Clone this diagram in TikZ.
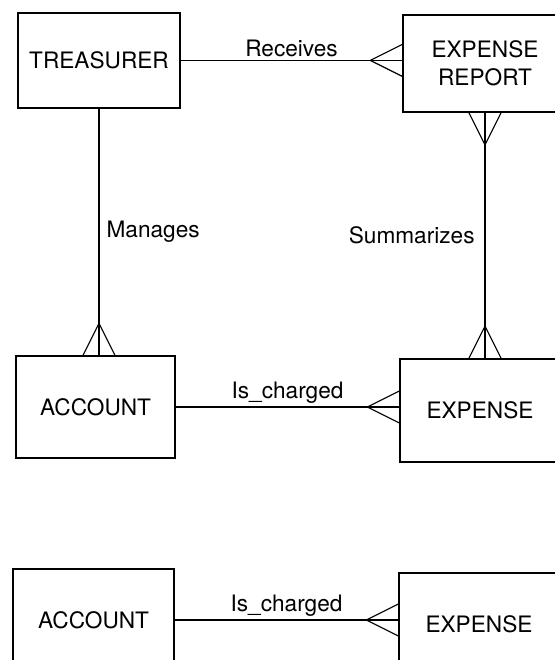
\documentclass[tikz,border=0pt]{standalone}
\usepackage{fontspec}
\setmainfont{TeX Gyre Heros}
\usepackage{tikz}
\usetikzlibrary{calc}
\usetikzlibrary{positioning}
\usetikzlibrary{arrows.meta}

\tikzset{
    entity/.style={draw,line width=1pt,minimum width=4cm,minimum height=2.55cm,align=center,
        font=\fontsize{16.1}{20}\selectfont},
    rel/.style={line width=0.8pt},
    rlabel/.style={font=\fontsize{16.1}{20}\selectfont,inner sep=2pt}
}

\begin{document}
\begin{tikzpicture}
                    \useasboundingbox (0,0) rectangle (13.875,16.5);
                    \clip (0,0) rectangle (13.875,16.5);

                    \node[entity,minimum width=4.05cm,minimum height=2.375cm] (treasurer) at (2.475,14.99) {TREASURER};
                    \node[entity,minimum width=4.1cm,minimum height=2.425cm] (report) at (12.125,14.91) {EXPENSE\\REPORT};
                    \node[entity,minimum width=3.975cm] (account) at (2.39,6.325) {ACCOUNT};
                    \node[entity,minimum height=2.575cm] (expense) at (12.0,6.24) {EXPENSE};
                    \node[entity,minimum width=4.025cm] (accountb) at (2.34,1.0) {ACCOUNT};
                    \node[entity,minimum height=2.575cm] (expenseb) at (11.975,0.89) {EXPENSE};

                    \coordinate (R) at (treasurer.east -| report.west);
                    \coordinate (M) at (treasurer.south |- account.north);
                    \coordinate (S) at (report.south |- expense.north);
                    \coordinate (C) at (account.east -| expense.west);
                    \coordinate (Cb) at (accountb.east -| expenseb.west);

                    \draw[rel] (treasurer.east) -- node[rlabel,above]{Receives} (R);
                    \draw[rel] ($(R)+(-0.8,0)$) -- ($(R)+(0,0.4)$) ($(R)+(-0.8,0)$) -- ($(R)+(0,-0.4)$);

                    \draw[rel] (treasurer.south) -- node[rlabel,right=3pt]{Manages} (M);
                    \draw[rel] ($(M)+(0,0.8)$) -- ($(M)+(-0.4,0)$) ($(M)+(0,0.8)$) -- ($(M)+(0.4,0)$);

                    \draw[rel] (report.south) -- node[rlabel,left=5pt]{Summarizes} (S);
                    \draw[rel] ($(report.south)+(0,-0.8)$) -- ($(report.south)+(-0.4,0)$) ($(report.south)+(0,-0.8)$) -- ($(report.south)+(0.4,0)$);
                    \draw[rel] ($(S)+(0,0.8)$) -- ($(S)+(-0.4,0)$) ($(S)+(0,0.8)$) -- ($(S)+(0.4,0)$);

                    \draw[rel] (account.east) -- node[rlabel,above]{Is\_charged} (C);
                    \draw[rel] ($(C)+(-0.8,0)$) -- ($(C)+(0,0.4)$) ($(C)+(-0.8,0)$) -- ($(C)+(0,-0.4)$);

                    \draw[rel] (accountb.east) -- node[rlabel,above]{Is\_charged} (Cb);
                    \draw[rel] ($(Cb)+(-0.8,0)$) -- ($(Cb)+(0,0.4)$) ($(Cb)+(-0.8,0)$) -- ($(Cb)+(0,-0.4)$);
                \end{tikzpicture}
\end{document}
